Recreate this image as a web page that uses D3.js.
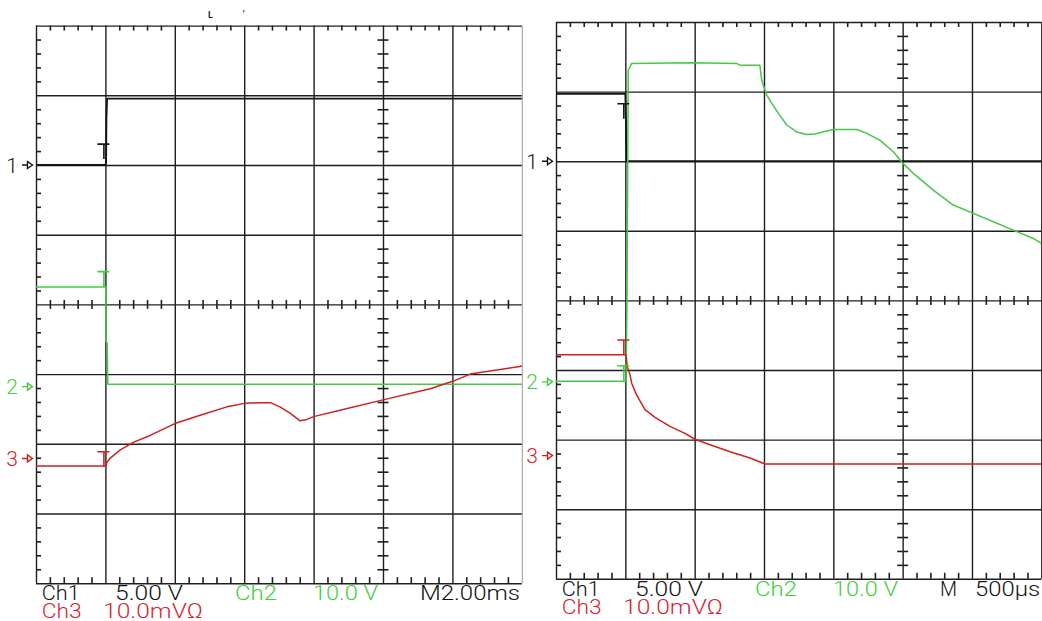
<!DOCTYPE html>
<html>
<head>
<meta charset="utf-8">
<script src="https://cdn.jsdelivr.net/npm/d3@7"></script>
<style>
  html, body { margin: 0; padding: 0; background: #fff; }
  svg { display: block; }
  text { font-family: Roboto, 'Liberation Sans', Arial, sans-serif; font-weight: 300; }
</style>
</head>
<body>
<div id="chart"></div>
<script>
// readout, one entry per channel
const channelLabels = ['Ch1', 'Ch2', 'Ch3'];
const channelScaleText = ['5.00 V', '10.0 V', '10.0mVΩ'];
const unitsPerDiv = [5, 10, 10];            // V/div, V/div, mV/div

// left shot: 2.00 ms/div, time in ms, trigger at t = 0
const leftTimebase = ['M2.00ms'];
const leftTime = [-2, 12];
const leftOffsets = [2.0, -1.18, -2.21];    // channel ground markers, divisions
const leftTrigMarks = [1.5, 16.5, 0.95];
const leftCh1 = [[-2, 0], [0, 0], [0.02, 0.2], [0.03, 3.3], [0.05, 4.76], [12, 4.76]];
const leftCh2 = [[-2, 14.3], [0.01, 14.3], [0.02, 6.4], [0.05, 6.3], [0.07, 0.35], [12, 0.35]];
const leftCh3 = [[-2, -1.1], [0, -1.1], [0.05, -0.5], [0.13, 0], [0.42, 1.2], [0.8, 2.3],
    [1.29, 3.3], [2.0, 5.0], [2.73, 6.2], [3.5, 7.4], [4.02, 7.9], [4.46, 8.0], [4.75, 8.0],
    [5.03, 7.4], [5.32, 6.5], [5.61, 5.4], [5.8, 5.6], [6.0, 6.0], [6.76, 6.9], [8.0, 8.4],
    [9.36, 10.0], [10.03, 11.1], [10.51, 12.1], [11.95, 13.2], [12, 13.3]];

// right shot: 500 us/div, time in us
const rightTimebase = ['M', '500μs'];
const rightTime = [-500, 3000];
const rightOffsets = [2.0, -1.17, -2.23];
const rightTrigMarks = [4.13, 2.3, 16.6];
const rightCh1 = [[-500, 4.83], [0, 4.83], [4, 3.2], [8, 1.0], [10, 0], [3000, 0]];
const rightCh2 = [[-500, 0.1], [5, 0.1], [12, 11.7], [21, 44.8], [46, 45.75], [480, 45.85],
    [800, 45.75], [830, 45.5], [970, 45.5], [983, 43.4], [995, 42.6], [1020, 41.2], [1056, 40.0],
    [1103, 38.6], [1164, 36.9], [1236, 35.9], [1308, 35.55], [1368, 35.6], [1452, 36.05],
    [1500, 36.25], [1669, 36.25], [1741, 35.7], [1837, 34.7], [1933, 33.05], [1997, 31.5],
    [2077, 29.95], [2221, 27.55], [2365, 25.4], [2510, 24.2], [2654, 23.0], [2798, 21.8],
    [2942, 20.6], [3000, 19.9]];
const rightCh3 = [[-500, 14.5], [5, 14.5], [14, 12.8], [34, 11.6], [46, 10.4], [70, 9.2],
    [94, 8.25], [142, 6.6], [214, 5.5], [322, 4.2], [430, 3.2], [502, 2.35], [611, 1.55],
    [755, 0.55], [899, -0.35], [1007, -1.2], [3000, -1.2]];

const WIDTH = 1042;
const HEIGHT = 621;
const GRID = '#1e1e1e';
const TRACE = ['#141414', '#45c845', '#cc2222'];
const INK = ['#111111', '#3fd03a', '#d41f33'];

const svg = d3.select('#chart')
    .append('svg')
    .attr('width', WIDTH)
    .attr('height', HEIGHT)
    .attr('viewBox', [0, 0, WIDTH, HEIGHT]);

function plotScope(panel, shot) {
    const width = 7 * panel.cellW;
    const height = 8 * panel.cellH;

    const chart = svg.append('g')
        .attr('transform', `translate(${panel.left}, ${panel.top})`);

    const xScale = d3.scaleLinear().domain(shot.time).range([0, width]);
    const yScale = d3.scaleLinear().domain([-4, 4]).range([height, 0]);

    const tDiv = (shot.time[1] - shot.time[0]) / 7;
    const majorT = d3.range(8).map(i => shot.time[0] + i * tDiv);
    const minorT = d3.range(36).map(i => shot.time[0] + i * tDiv / 5).filter((d, i) => i % 5);
    const majorY = d3.range(-4, 5);
    const minorY = d3.range(41).map(i => -4 + i * 0.2).filter((d, i) => i % 5);

    const styleAxis = (g, w) => {
        g.select('.domain').remove();
        g.selectAll('line').attr('stroke', GRID).attr('stroke-width', w);
    };

    // major divisions
    const vGrid = chart.append('g')
        .call(d3.axisTop(xScale).tickValues(majorT).tickSize(-height).tickFormat(''))
        .call(g => styleAxis(g, 1.4));
    if (panel.fadedEdge) {
        vGrid.selectAll('.tick').filter((d, i) => i === 7)
            .select('line').attr('stroke', '#9a9a9a').attr('stroke-width', 1);
    }
    chart.append('g')
        .call(d3.axisLeft(yScale).tickValues(majorY).tickSize(-width).tickFormat(''))
        .call(g => styleAxis(g, 1.4));

    // minor ticks on the frame
    chart.append('g')
        .call(d3.axisTop(xScale).tickValues(minorT).tickSize(-5).tickFormat(''))
        .call(g => styleAxis(g, 1.6));
    chart.append('g')
        .call(d3.axisLeft(yScale).tickValues(minorY).tickSize(-5).tickFormat(''))
        .call(g => styleAxis(g, 1.6));
    chart.append('g')
        .attr('transform', `translate(0, ${height})`)
        .call(d3.axisBottom(xScale).tickValues(minorT).tickSize(-6).tickFormat(''))
        .call(g => styleAxis(g, 1.6));

    // minor ticks on the centre cross
    [4.5, -4.5].forEach(s => {
        chart.append('g')
            .attr('transform', `translate(0, ${yScale(0)})`)
            .call(d3.axisBottom(xScale).tickValues(minorT).tickSize(s).tickFormat(''))
            .call(g => styleAxis(g, 1.6));
    });
    [5.5, -5.5].forEach(s => {
        chart.append('g')
            .attr('transform', `translate(${xScale(majorT[5])}, 0)`)
            .call(d3.axisLeft(yScale).tickValues(minorY).tickSize(s).tickFormat(''))
            .call(g => styleAxis(g, 1.6));
    });

    // traces
    shot.series.forEach((data, c) => {
        const line = d3.line()
            .x(d => xScale(d[0]))
            .y(d => yScale(shot.offsets[c] + d[1] / unitsPerDiv[c]));
        chart.append('path')
            .datum(data)
            .attr('fill', 'none')
            .attr('stroke', TRACE[c])
            .attr('stroke-width', c === 0 ? 1.8 : 1.5)
            .attr('stroke-linejoin', 'round')
            .attr('d', line);
    });

    // trigger "T" marks
    const xT = xScale(0);
    chart.append('g')
        .selectAll('path')
        .data(shot.trigMarks)
        .join('path')
        .attr('fill', 'none')
        .attr('stroke', (d, c) => TRACE[c])
        .attr('stroke-width', 1.6)
        .attr('d', (d, c) => {
            const yT = yScale(shot.offsets[c] + d / unitsPerDiv[c]);
            return `M${xT - 8},${yT}H${xT + 4}M${xT - 1.5},${yT}v15`;
        });

    // channel ground markers "1 ->"
    const markers = chart.append('g')
        .selectAll('g')
        .data(shot.offsets)
        .join('g')
        .attr('transform', d => `translate(0, ${yScale(d)})`);
    markers.append('text')
        .attr('x', -18)
        .attr('y', 7.5)
        .attr('text-anchor', 'end')
        .attr('fill', (d, c) => INK[c])
        .style('font-size', '21px')
        .text((d, c) => c + 1);
    markers.append('path')
        .attr('fill', '#fff')
        .attr('stroke', (d, c) => TRACE[c])
        .attr('stroke-width', 1.4)
        .attr('d', 'M-14,0H-8.5M-8.5,-3.5L-3.5,0L-8.5,3.5Z');

    // readout below the grid
    const tokens = [
        { text: channelLabels[0], dx: 5.7, w: 38, row: 0, c: 0 },
        { text: channelScaleText[0], dx: 79, w: 68, row: 0, c: 0 },
        { text: channelLabels[1], dx: 199, w: 42, row: 0, c: 1 },
        { text: channelScaleText[1], dx: 277, w: 65, row: 0, c: 1 },
        { text: channelLabels[2], dx: 5.7, w: 40, row: 1, c: 2 },
        { text: channelScaleText[2], dx: 67, w: 100, row: 1, c: 2 }
    ];
    if (shot.timebase.length === 1) {
        tokens.push({ text: shot.timebase[0], dx: 384, w: 100, row: 0, c: 0 });
    } else {
        tokens.push({ text: shot.timebase[0], dx: 384, w: 17, row: 0, c: 0 });
        tokens.push({ text: shot.timebase[1], dx: 419, w: 65, row: 0, c: 0 });
    }
    chart.append('g')
        .selectAll('text')
        .data(tokens)
        .join('text')
        .attr('x', d => d.dx)
        .attr('y', d => panel.rows[d.row])
        .attr('fill', d => INK[d.c])
        .attr('textLength', d => d.w)
        .attr('lengthAdjust', 'spacingAndGlyphs')
        .style('font-size', '20px')
        .text(d => d.text);

    return chart;
}

const leftChart = plotScope(
    { left: 36, top: 25.6, cellW: 69.4, cellH: 69.7, rows: [574.4, 592], fadedEdge: true },
    { time: leftTime, offsets: leftOffsets, trigMarks: leftTrigMarks,
      series: [leftCh1, leftCh2, leftCh3], timebase: leftTimebase });

plotScope(
    { left: 556, top: 22, cellW: 69.33, cellH: 69.6, rows: [574, 591.5], fadedEdge: false },
    { time: rightTime, offsets: rightOffsets, trigMarks: rightTrigMarks,
      series: [rightCh1, rightCh2, rightCh3], timebase: rightTimebase });

// small position marks above the left grid
leftChart.append('text')
    .attr('x', 172)
    .attr('y', -8)
    .attr('fill', GRID)
    .style('font-size', '9px')
    .style('font-weight', 'bold')
    .text('L');
leftChart.append('text')
    .attr('x', 207)
    .attr('y', -9)
    .attr('fill', GRID)
    .style('font-size', '9px')
    .style('font-weight', 'bold')
    .text("'");
</script>
</body>
</html>
